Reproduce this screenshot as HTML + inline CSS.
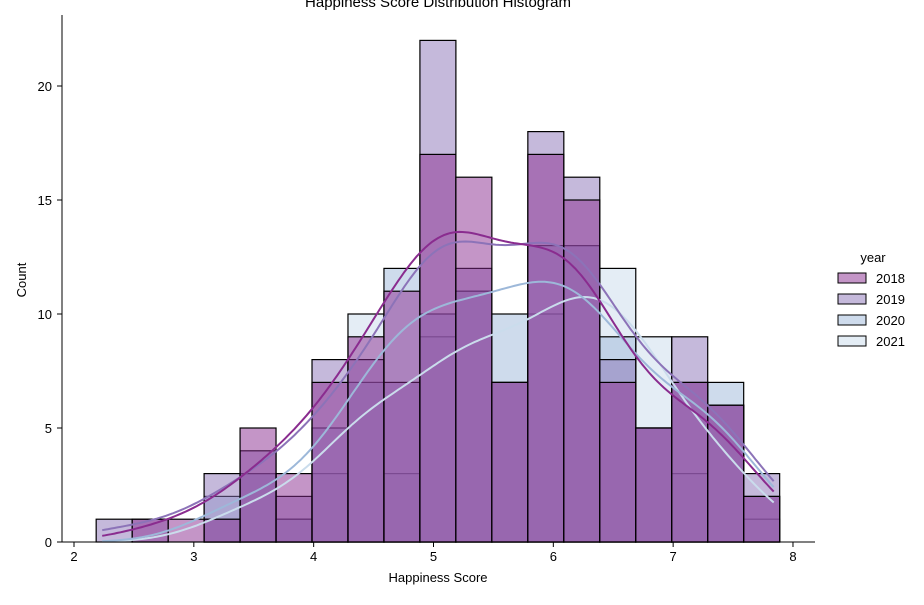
<!DOCTYPE html>
<html><head><meta charset="utf-8"><style>
body{margin:0;background:#fff;font-family:"Liberation Sans","DejaVu Sans",sans-serif}
svg text{font-family:"Liberation Sans","DejaVu Sans",sans-serif;fill:#000}
</style></head><body>
<svg id="chart" width="924" height="600"></svg>
<script>
const years = ["2018","2019","2020","2021"];
const binStart = 2.185;
const binWidth = 0.3002;
const counts2018 = [0,1,1,1,5,3,7,9,11,17,16,7,17,15,7,5,7,6,2];
const counts2019 = [1,1,0,3,4,2,8,8,7,22,12,7,18,16,8,5,9,6,3];
const counts2020 = [0,0,0,2,3,1,5,7,12,10,11,10,13,13,9,5,7,7,2];
const counts2021 = [0,0,0,1,3,1,3,10,3,9,11,7,10,13,12,9,3,6,1];
const xTicks = [2,3,4,5,6,7,8];
const yTicks = [0,5,10,15,20];
const colors = ["#8a2c8f","#8c73b8","#9db8d9","#cadcec"];
const allCounts = [counts2018,counts2019,counts2020,counts2021];

const NS="http://www.w3.org/2000/svg";
const svg=document.getElementById('chart');
const X0=74, XU=119.83, Y0=542, YU=22.8;
const sx=v=>X0+(v-2)*XU, sy=v=>Y0-v*YU;
function mk(t,a,p){const e=document.createElementNS(NS,t);for(const k in a)e.setAttribute(k,a[k]);(p||svg).appendChild(e);return e;}

for(let h=3;h>=0;h--){
  const g=mk('g',{});
  
  
  allCounts[h].forEach((c,i)=>{
    if(c<=0)return;
    const x1=sx(binStart+i*binWidth), x2=sx(binStart+(i+1)*binWidth);
    const r=mk('rect',{x:x1,y:sy(c),width:x2-x1,height:sy(0)-sy(c),fill:colors[h],'fill-opacity':0.5,stroke:'#000','stroke-width':1.2},g);
    
    
  });
}
const nb=counts2018.length;
const lo=binStart+0.05, hi=binStart+nb*binWidth-0.05;
for(let h=3;h>=0;h--){
  const c=allCounts[h];
  let n=0,m=0;const pts=[];
  c.forEach((k,i)=>{const x=binStart+(i+0.5)*binWidth;n+=k;m+=k*x;pts.push(x);});
  m/=n;let v=0;c.forEach((k,i)=>{v+=k*(pts[i]-m)**2;});
  const sd=Math.sqrt(v/(n-1));const bw=sd*Math.pow(n,-0.2);
  let d='';
  for(let s=0;s<=220;s++){
    const x=lo+(hi-lo)*s/220;let dens=0;
    c.forEach((k,i)=>{dens+=k*Math.exp(-0.5*((x-pts[i])/bw)**2);});
    dens/=(n*bw*Math.sqrt(2*Math.PI));
    const y=dens*n*binWidth;
    d+=(s?'L':'M')+sx(x).toFixed(1)+','+sy(y).toFixed(1);
  }
  const p=mk('path',{d:d,fill:'none',stroke:colors[h],'stroke-width':2});
  
  
}
const ax=mk('g',{});


mk('line',{x1:62,y1:15,x2:62,y2:542,stroke:'#000','stroke-width':1},ax);
mk('line',{x1:62,y1:542,x2:815,y2:542,stroke:'#000','stroke-width':1},ax);
xTicks.forEach(t=>{
  mk('line',{x1:sx(t),y1:542,x2:sx(t),y2:547,stroke:'#000'},ax);
  const tx=mk('text',{x:sx(t),y:561,'text-anchor':'middle','font-size':13},ax);tx.textContent=t;
  
  
});
yTicks.forEach(t=>{
  mk('line',{x1:57,y1:sy(t),x2:62,y2:sy(t),stroke:'#000'},ax);
  const tx=mk('text',{x:52,y:sy(t)+5,'text-anchor':'end','font-size':13},ax);tx.textContent=t;
  
  
});
years.forEach((yr,i)=>{
  const y=278+i*21;
  const r=mk('rect',{x:838,y:y-5,width:28,height:10,fill:colors[i],'fill-opacity':0.5,stroke:'#000','stroke-width':1});
  
  
  const t=mk('text',{x:876,y:y+5,'font-size':13});t.textContent=yr;
  
  
});
</script>
<svg width="924" height="600" style="position:absolute;left:0;top:0;pointer-events:none">
<text x="438" y="7" text-anchor="middle" font-size="15">Happiness Score Distribution Histogram</text>
<text x="438" y="582" text-anchor="middle" font-size="13">Happiness Score</text>
<text x="26" y="280" text-anchor="middle" font-size="13" transform="rotate(-90 26 280)">Count</text>
<text x="873" y="262" text-anchor="middle" font-size="13">year</text>
</svg>
</body></html>
